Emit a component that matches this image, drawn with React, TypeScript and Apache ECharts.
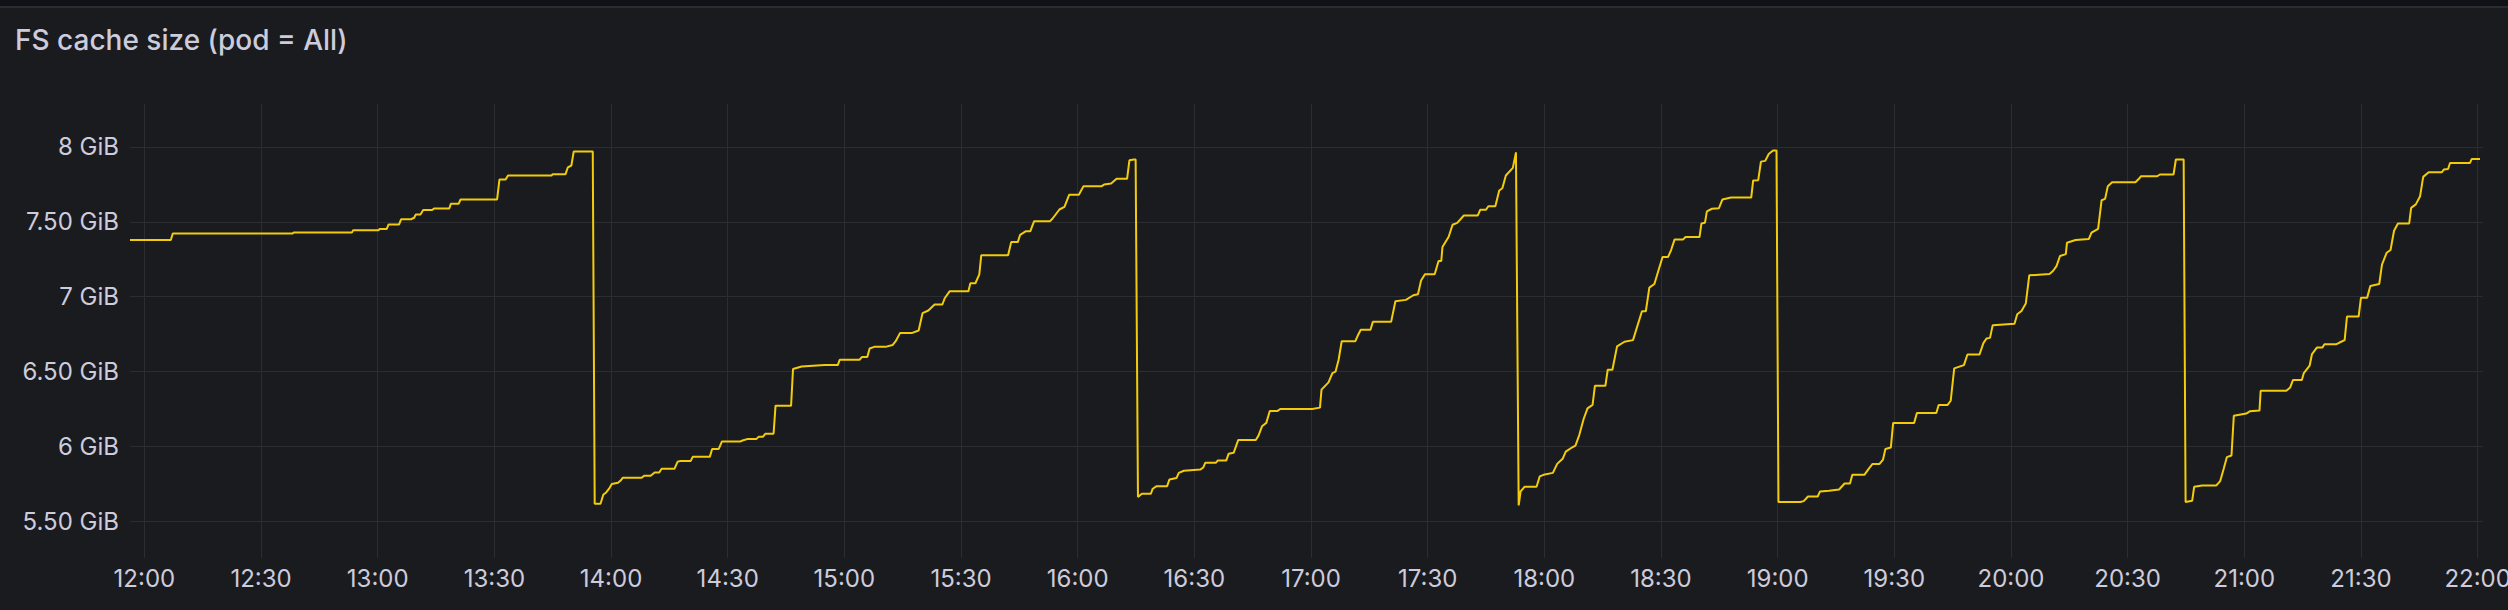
import React, { useEffect, useRef } from "react";
import * as echarts from "echarts";

// ---- data (minutes after 12:00, GiB) ----
const TITLE = "FS cache size (pod = All)";
const START_HOUR = 12;
const X_MIN_MINUTES = -3.7;
const X_MAX_MINUTES = 601.3;
const Y_MIN = 5.253;
const Y_MAX = 8.287;

const cycle1: [number, number][] = [
  [-3.7, 7.378], [6.8, 7.378], [7.3, 7.422], [38.1, 7.422], [38.4, 7.429], [53.4, 7.429],
  [53.7, 7.444], [60.2, 7.444], [60.5, 7.451], [62.3, 7.451], [62.8, 7.482], [65.5, 7.482],
  [66.0, 7.516], [68.7, 7.516], [68.9, 7.524], [69.3, 7.524], [69.8, 7.549], [71.0, 7.549],
  [71.7, 7.578], [74.0, 7.578], [74.5, 7.589], [78.4, 7.589], [78.8, 7.62], [80.8, 7.62],
  [81.3, 7.649], [90.7, 7.649], [91.3, 7.782], [92.9, 7.782], [93.5, 7.809], [104.7, 7.809],
  [105.0, 7.818], [108.3, 7.818], [108.9, 7.864], [109.8, 7.876], [110.4, 7.969], [115.3, 7.969],
];

const cycle2: [number, number][] = [
  [115.8, 5.616], [117.3, 5.616], [118.0, 5.676], [118.8, 5.693], [119.6, 5.72], [120.2, 5.747],
  [121.8, 5.756], [122.4, 5.769], [123.0, 5.789], [127.9, 5.789], [128.5, 5.802], [130.2, 5.802],
  [131.2, 5.824], [132.4, 5.824], [133.0, 5.849], [136.3, 5.849], [137.1, 5.896], [137.9, 5.902],
  [140.5, 5.902], [141.0, 5.929], [145.4, 5.929], [146.0, 5.982], [147.7, 5.982], [148.5, 6.031],
  [153.2, 6.031], [153.8, 6.038], [155.2, 6.049], [157.4, 6.049], [158.0, 6.064], [159.1, 6.064],
  [159.7, 6.084], [161.8, 6.084], [162.3, 6.271], [166.3, 6.271], [166.8, 6.516], [169.0, 6.533],
  [174.9, 6.542], [178.3, 6.542], [178.8, 6.578], [183.9, 6.578], [184.5, 6.596], [185.9, 6.596],
  [186.5, 6.653], [187.7, 6.664], [190.6, 6.664], [192.4, 6.676], [193.2, 6.702], [194.3, 6.756],
  [197.3, 6.756], [199.1, 6.773], [200.1, 6.889], [201.6, 6.907], [203.2, 6.947], [205.2, 6.947],
  [205.8, 6.989], [207.1, 7.036], [211.9, 7.036], [212.4, 7.089], [213.7, 7.089], [214.7, 7.149],
  [215.2, 7.276], [222.1, 7.276], [222.9, 7.364], [224.6, 7.364], [225.2, 7.413], [226.6, 7.436],
  [227.8, 7.436], [228.8, 7.504], [232.9, 7.504], [233.5, 7.52], [235.3, 7.582], [236.6, 7.6],
  [237.8, 7.68], [240.3, 7.68], [241.5, 7.738], [246.2, 7.738], [246.8, 7.749], [248.6, 7.756],
  [250.0, 7.787], [252.7, 7.787], [253.3, 7.911], [254.5, 7.916], [254.9, 7.916],
];

const cycle3: [number, number][] = [
  [255.5, 5.66], [256.5, 5.682], [258.8, 5.682], [259.3, 5.716], [260.3, 5.733], [263.0, 5.733],
  [263.6, 5.778], [265.4, 5.787], [266.0, 5.822], [267.3, 5.836], [271.5, 5.844], [272.3, 5.858],
  [272.8, 5.889], [275.5, 5.889], [276.0, 5.904], [278.2, 5.904], [278.8, 5.949], [280.1, 5.956],
  [281.3, 6.042], [285.8, 6.042], [286.5, 6.071], [287.4, 6.133], [288.5, 6.156], [289.4, 6.236],
  [291.4, 6.236], [292.1, 6.249], [300.3, 6.249], [302.3, 6.258], [302.7, 6.378], [304.5, 6.427],
  [305.5, 6.489], [306.3, 6.498], [307.1, 6.578], [307.9, 6.702], [311.4, 6.702], [312.0, 6.738],
  [312.8, 6.778], [315.3, 6.778], [315.9, 6.831], [320.6, 6.831], [321.7, 6.969], [324.4, 6.978],
  [326.3, 7.009], [327.5, 7.016], [328.3, 7.107], [329.3, 7.149], [331.8, 7.149], [332.8, 7.238],
  [333.5, 7.238], [333.8, 7.331], [335.4, 7.4], [336.4, 7.48], [337.6, 7.493], [339.3, 7.542],
  [342.9, 7.542], [343.5, 7.58], [345.0, 7.58], [345.6, 7.604], [347.4, 7.604], [348.4, 7.709],
  [349.2, 7.724], [350.1, 7.809], [351.9, 7.86], [352.7, 7.964],
];

const cycle4: [number, number][] = [
  [353.4, 5.604], [353.9, 5.698], [354.9, 5.729], [358.0, 5.729], [358.8, 5.798], [359.8, 5.809],
  [362.2, 5.822], [363.3, 5.882], [364.7, 5.916], [365.5, 5.964], [367.2, 5.993], [368.0, 6.004],
  [369.0, 6.076], [370.1, 6.182], [371.1, 6.253], [372.4, 6.276], [373.0, 6.404], [375.7, 6.404],
  [376.3, 6.511], [377.5, 6.511], [378.7, 6.667], [380.6, 6.698], [382.8, 6.709], [385.1, 6.902],
  [386.1, 6.902], [387.0, 7.06], [388.3, 7.084], [389.3, 7.171], [390.4, 7.264], [391.8, 7.264],
  [392.6, 7.311], [393.5, 7.382], [395.7, 7.382], [396.3, 7.398], [399.9, 7.398], [400.4, 7.489],
  [401.3, 7.493], [401.8, 7.569], [403.1, 7.587], [404.9, 7.591], [405.8, 7.649], [408.0, 7.662],
  [413.2, 7.662], [413.7, 7.776], [415.0, 7.778], [415.7, 7.902], [416.8, 7.907], [417.7, 7.953],
  [418.8, 7.976], [419.7, 7.976],
];

const cycle5: [number, number][] = [
  [420.2, 5.627], [425.8, 5.627], [426.7, 5.633], [427.8, 5.664], [430.3, 5.664], [430.9, 5.698],
  [433.2, 5.702], [435.8, 5.711], [437.2, 5.751], [438.6, 5.751], [439.2, 5.809], [442.3, 5.809],
  [443.4, 5.849], [444.4, 5.882], [446.2, 5.882], [447.1, 5.911], [447.7, 5.982], [449.1, 5.991],
  [449.7, 6.156], [455.1, 6.156], [455.8, 6.222], [460.8, 6.222], [461.4, 6.276], [463.7, 6.276],
  [464.5, 6.304], [465.4, 6.52], [467.9, 6.542], [468.8, 6.613], [471.9, 6.613], [472.9, 6.689],
  [473.7, 6.72], [474.6, 6.724], [475.3, 6.809], [480.9, 6.818], [481.6, 6.882], [482.7, 6.904],
  [483.8, 6.953], [484.7, 7.142], [489.9, 7.151], [490.8, 7.171], [491.7, 7.204], [492.6, 7.271],
  [494.1, 7.284], [494.4, 7.36], [496.6, 7.378], [500.0, 7.384], [500.7, 7.427], [502.4, 7.453],
  [503.3, 7.644], [504.2, 7.653], [504.9, 7.738], [506.0, 7.764], [512.0, 7.764], [512.9, 7.787],
  [513.4, 7.804], [517.6, 7.804], [518.3, 7.816], [521.8, 7.816], [522.4, 7.916], [524.4, 7.916],
];

const cycle6: [number, number][] = [
  [524.9, 5.627], [526.6, 5.636], [527.1, 5.729], [529.2, 5.738], [532.8, 5.738], [533.8, 5.767],
  [534.7, 5.849], [535.5, 5.927], [536.7, 5.938], [537.3, 6.204], [540.5, 6.218], [541.4, 6.233],
  [543.9, 6.238], [544.2, 6.371], [550.8, 6.371], [551.8, 6.393], [552.5, 6.442], [554.8, 6.442],
  [555.3, 6.489], [556.8, 6.538], [557.4, 6.616], [558.7, 6.66], [560.1, 6.66], [560.6, 6.682],
  [563.7, 6.682], [564.5, 6.693], [565.8, 6.709], [566.4, 6.867], [569.4, 6.867], [570.0, 6.993],
  [571.6, 6.993], [572.4, 7.071], [574.7, 7.084], [575.4, 7.213], [576.6, 7.293], [577.6, 7.311],
  [578.5, 7.44], [579.5, 7.489], [582.4, 7.489], [582.9, 7.593], [584.1, 7.616], [585.2, 7.671],
  [586.0, 7.8], [587.4, 7.831], [590.8, 7.831], [591.3, 7.849], [592.4, 7.853], [592.9, 7.893],
  [598.0, 7.893], [598.5, 7.92], [600.6, 7.92],
];

const CYCLES = [cycle1, cycle2, cycle3, cycle4, cycle5, cycle6];

const TEXT_COLOR = "#ccccdc";
const GRID_COLOR = "#2c2d32";
const LINE_COLOR = "#F2CC0C";
const PANEL_BG = "#1a1b1f";

const pad = (n: number) => (n < 10 ? "0" + n : "" + n);

export default function App() {
  const ref = useRef<HTMLDivElement>(null);

  useEffect(() => {
    if (!ref.current) return;
    const chart = echarts.init(ref.current, undefined, { renderer: "svg" });
    const seriesData = CYCLES.flat().map(([m, v]) => [m, v]);

    chart.setOption({
      animation: false,
      backgroundColor: PANEL_BG,
      textStyle: { fontFamily: "Inter" },
      graphic: [
        { type: "rect", silent: true, shape: { x: 0, y: 0, width: 2508, height: 6 }, style: { fill: "#111217" } },
        { type: "rect", silent: true, shape: { x: 0, y: 6, width: 2508, height: 2 }, style: { fill: "#2b2c31" } },
        {
          type: "text",
          silent: true,
          x: 15,
          y: 40,
          style: {
            text: TITLE,
            fill: TEXT_COLOR,
            fontSize: 28,
            fontWeight: 500,
            fontFamily: "Inter",
            verticalAlign: "middle",
            align: "left",
          },
        },
      ],
      grid: { left: 130, right: 25.3, top: 104, bottom: 52, containLabel: false, outerBoundsMode: "none" },
      xAxis: {
        type: "value",
        min: X_MIN_MINUTES,
        max: X_MAX_MINUTES,
        splitNumber: 20,
        axisLine: { show: false },
        axisTick: { show: false },
        splitLine: { show: true, showMinLine: false, showMaxLine: false, lineStyle: { color: GRID_COLOR, width: 1 } },
        axisLabel: {
          color: TEXT_COLOR,
          fontSize: 24,
          fontFamily: "Inter",
          margin: 8,
          showMinLabel: false,
          showMaxLabel: false,
          hideOverlap: false,
          formatter: (val: number) => {
            const m = Math.round(val);
            if (Math.abs(val - m) > 1e-6 || m % 30 !== 0) return "";
            return pad(START_HOUR + Math.floor(m / 60)) + ":" + pad(m % 60);
          },
        },
      },
      yAxis: {
        type: "value",
        min: Y_MIN,
        max: Y_MAX,
        splitNumber: 5,
        axisLine: { show: false },
        axisTick: { show: false },
        splitLine: { show: true, showMinLine: false, showMaxLine: false, lineStyle: { color: GRID_COLOR, width: 1 } },
        axisLabel: {
          color: TEXT_COLOR,
          fontSize: 24,
          fontFamily: "Inter",
          margin: 11,
          padding: [0, 0, 4, 0],
          showMinLabel: false,
          showMaxLabel: false,
          formatter: (v: number) => {
            const r = Math.round(v * 2) / 2;
            if (Math.abs(v - r) > 1e-6) return "";
            return Number.isInteger(r) ? `${r} GiB` : `${r.toFixed(2)} GiB`;
          },
        },
      },
      series: [
        {
          type: "line",
          data: seriesData,
          showSymbol: false,
          symbol: "none",
          lineStyle: { color: LINE_COLOR, width: 2 },
          itemStyle: { color: LINE_COLOR },
        },
      ],
    });

    return () => chart.dispose();
  }, []);

  return (
    <div
      ref={ref}
      style={{ position: "absolute", left: 0, top: 0, width: 2508, height: 610 }}
    />
  );
}
